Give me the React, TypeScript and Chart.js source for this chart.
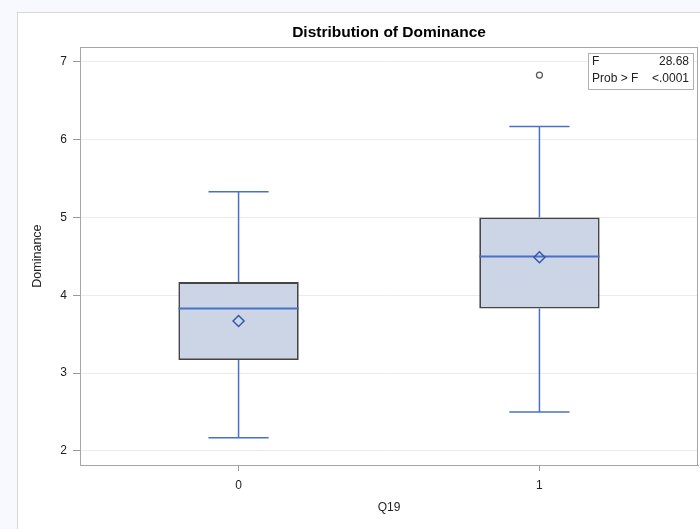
import React, { useEffect, useRef } from "react";
import { Chart, registerables } from "chart.js";

Chart.register(...registerables);

// ---- data ----
const categories = [0, 1];
const categoryLabels = ["0", "1"];
const whiskerLow = [2.17, 2.5];
const q1 = [3.17, 3.83];
const median = [3.83, 4.5];
const q3 = [4.17, 5.0];
const whiskerHigh = [5.33, 6.17];
const means = [3.67, 4.49];
const outlierCats = [1];
const outlierValues = [6.83];
const yTicks = [2, 3, 4, 5, 6, 7];
const statLabels = ["F", "Prob > F"];
const statValues = ["28.68", "<.0001"];

// ---- styles ----
const FONT = "'Liberation Sans', Arial, Helvetica, sans-serif";
const BLUE = "#4a70c6";
const MEAN_BLUE = "#3556ad";
const BOX_FILL = "#cbd5e6";
const BOX_EDGE = "#454545";
const BOX_HALF = 0.2;
const CAP_HALF = 0.1;

const framePlugin = {
  id: "frameAndInset",
  afterDraw(chart: any) {
    const { ctx, chartArea } = chart;
    const { left, top, right, bottom } = chartArea;
    ctx.save();
    ctx.strokeStyle = "#a6a6a6";
    ctx.lineWidth = 1;
    ctx.strokeRect(Math.round(left) + 0.5, Math.round(top) + 0.5, Math.round(right - left) - 1, Math.round(bottom - top));
    // inset statistics box
    const bx = Math.round(right) - 110;
    const by = Math.round(top) + 6;
    const bw = 105;
    const bh = 36;
    ctx.fillStyle = "#ffffff";
    ctx.fillRect(bx, by, bw, bh);
    ctx.strokeStyle = "#b0b0b0";
    ctx.strokeRect(bx + 0.5, by + 0.5, bw, bh);
    ctx.fillStyle = "#222";
    ctx.font = `12px ${FONT}`;
    ctx.textBaseline = "middle";
    statLabels.forEach((lab, i) => {
      const yy = by + 9 + i * 17;
      ctx.textAlign = "left";
      ctx.fillText(lab, bx + 4, yy);
      ctx.textAlign = "right";
      ctx.fillText(statValues[i], bx + bw - 4, yy);
    });
    ctx.restore();
  },
};

export default function App() {
  const ref = useRef<HTMLCanvasElement>(null);

  useEffect(() => {
    if (!ref.current) return;
    const datasets: any[] = [];

    // means
    datasets.push({
      type: "scatter",
      data: categories.map((c, i) => ({ x: c, y: means[i] })),
      pointStyle: "rectRot",
      pointRadius: 5.5,
      borderColor: MEAN_BLUE,
      backgroundColor: "rgba(0,0,0,0)",
      borderWidth: 1.5,
    });
    // outliers
    datasets.push({
      type: "scatter",
      data: outlierCats.map((c, i) => ({ x: c, y: outlierValues[i] })),
      pointStyle: "circle",
      pointRadius: 3,
      borderColor: "#555",
      backgroundColor: "rgba(0,0,0,0)",
      borderWidth: 1.2,
    });
    const seg = (pts: { x: number; y: number }[], color: string, w: number) => ({
      type: "line",
      data: pts,
      borderColor: color,
      borderWidth: w,
      pointRadius: 0,
      fill: false,
      showLine: true,
    });
    categories.forEach((c, i) => {
      datasets.push(seg([{ x: c - BOX_HALF, y: median[i] }, { x: c + BOX_HALF, y: median[i] }], BLUE, 2));
      datasets.push(seg([{ x: c, y: q3[i] }, { x: c, y: whiskerHigh[i] }], BLUE, 1.5));
      datasets.push(seg([{ x: c, y: q1[i] }, { x: c, y: whiskerLow[i] }], BLUE, 1.5));
      datasets.push(seg([{ x: c - CAP_HALF, y: whiskerHigh[i] }, { x: c + CAP_HALF, y: whiskerHigh[i] }], BLUE, 1.5));
      datasets.push(seg([{ x: c - CAP_HALF, y: whiskerLow[i] }, { x: c + CAP_HALF, y: whiskerLow[i] }], BLUE, 1.5));
    });
    // boxes (drawn first, underneath)
    datasets.push({
      type: "bar",
      data: categories.map((c, i) => ({ x: c, y: [q1[i], q3[i]] })),
      backgroundColor: BOX_FILL,
      borderColor: BOX_EDGE,
      borderWidth: 1.8,
      borderSkipped: false,
      barPercentage: 0.4,
      categoryPercentage: 1,
    });

    const chart = new Chart(ref.current, {
      type: "scatter",
      data: { datasets },
      options: {
        animation: false,
        responsive: false,
        layout: { padding: { left: 0, right: 3, top: 0, bottom: 0 } },
        plugins: {
          legend: { display: false },
          tooltip: { enabled: false },
          title: {
            display: true,
            text: "Distribution of Dominance",
            fullSize: false,
            color: "#000",
            font: { family: FONT, size: 15.5, weight: "bold", lineHeight: 1.2 },
            padding: { top: 10.5, bottom: 5 },
          },
        },
        scales: {
          x: {
            type: "linear",
            offset: false,
            min: -0.527,
            max: 1.527,
            afterBuildTicks: (s: any) => {
              s.ticks = categories.map((v) => ({ value: v }));
            },
            afterFit: (s: any) => {
              s.height = 64;
              s.paddingLeft = 0;
              s.paddingRight = 0;
            },
            grid: { offset: false, drawOnChartArea: false, drawTicks: true, tickLength: 6, tickColor: "#999" },
            border: { color: "#a6a6a6" },
            ticks: {
              color: "#222",
              font: { family: FONT, size: 12 },
              padding: 7,
              maxRotation: 0,
              callback: (v: any) => categoryLabels[categories.indexOf(Number(v))] ?? "",
            },
            title: {
              display: true,
              text: "Q19",
              color: "#222",
              font: { family: FONT, size: 12 },
              padding: { top: 0, bottom: 14 },
            },
          },
          y: {
            type: "linear",
            min: 1.82,
            max: 7.19,
            afterBuildTicks: (s: any) => {
              s.ticks = yTicks.map((v) => ({ value: v }));
            },
            afterFit: (s: any) => {
              s.width = 62;
            },
            grid: { color: "#ececec", tickColor: "#999", tickLength: 7, lineWidth: 1 },
            border: { color: "#a6a6a6" },
            ticks: {
              color: "#222",
              font: { family: FONT, size: 12 },
              padding: 6,
            },
            title: {
              display: true,
              text: "Dominance",
              color: "#222",
              font: { family: FONT, size: 12.5 },
              padding: { top: 12, bottom: 0 },
            },
          },
        },
      } as any,
      plugins: [framePlugin],
    });
    return () => chart.destroy();
  }, []);

  return (
    <div style={{ position: "fixed", left: 0, top: 0, width: 700, height: 529, background: "#f7f9fe", overflow: "hidden" }}>
      <div
        style={{
          position: "absolute",
          left: 17,
          top: 12,
          width: 688,
          height: 517,
          background: "#fff",
          borderLeft: "1px solid #d6d6d6",
          borderTop: "1px solid #d6d6d6",
        }}
      >
        <canvas ref={ref} width={687} height={516} style={{ display: "block", width: 687, height: 516 }} />
      </div>
    </div>
  );
}
